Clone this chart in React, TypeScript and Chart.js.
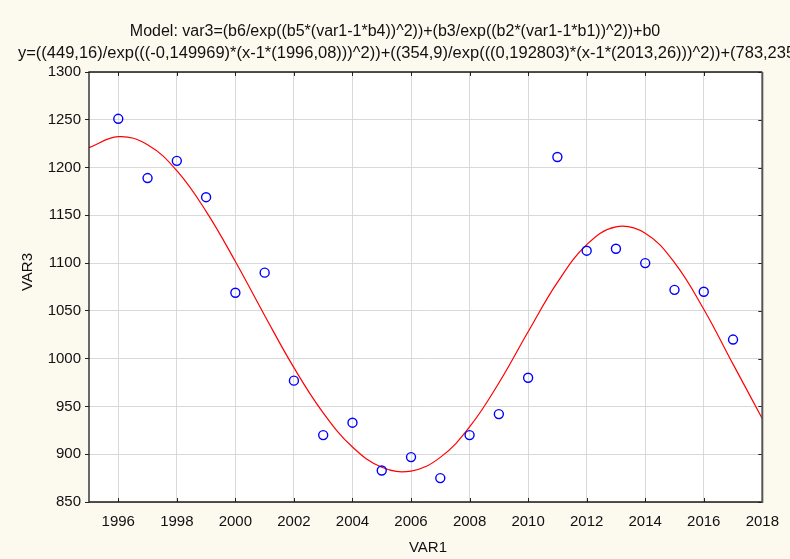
import React, { useEffect, useRef } from "react";
import { Chart, registerables } from "chart.js";

Chart.register(...registerables);

const titleLine1 = "Model: var3=(b6/exp((b5*(var1-1*b4))^2))+(b3/exp((b2*(var1-1*b1))^2))+b0";
const titleLine2 =
  "y=((449,16)/exp(((-0,149969)*(x-1*(1996,08)))^2))+((354,9)/exp(((0,192803)*(x-1*(2013,26)))^2))+(783,235)";
const xTitle = "VAR1";
const yTitle = "VAR3";

const years = [
  1996, 1997, 1998, 1999, 2000, 2001, 2002, 2003, 2004, 2005, 2006,
  2007, 2008, 2009, 2010, 2011, 2012, 2013, 2014, 2015, 2016, 2017,
];
const observed = [
  1251, 1189, 1207, 1169, 1069, 1090, 977, 920, 933, 883, 897,
  875, 920, 942, 980, 1211, 1113, 1115, 1100, 1072, 1070, 1020,
];

const curveX = [
  1995, 1996, 1997, 1998, 1999, 2000, 2001, 2002, 2003, 2004, 2005, 2006,
  2007, 2008, 2009, 2010, 2011, 2012, 2013, 2014, 2015, 2016, 2017, 2018,
];
const curveY = [
  1220.8, 1232.3, 1223.9, 1196.7, 1154.2, 1101.7, 1045.2, 990.6, 943.3, 907.5, 886.4, 882.4,
  896.7, 928.5, 974.5, 1028.1, 1079.8, 1119.3, 1138.0, 1131.3, 1100.5, 1051.7, 994.3, 937.2,
];

const xTicks = [1996, 1998, 2000, 2002, 2004, 2006, 2008, 2010, 2012, 2014, 2016, 2018];
const yTicks = [850, 900, 950, 1000, 1050, 1100, 1150, 1200, 1250, 1300];

const FONT = "'Liberation Sans', Arial, Helvetica, sans-serif";

const framePlugin = {
  id: "framePlugin",
  beforeDraw(chart: any) {
    const { ctx, chartArea: a, width, height } = chart;
    ctx.save();
    ctx.fillStyle = "#fcf9ef";
    ctx.fillRect(0, 0, width, height);
    ctx.fillStyle = "#ffffff";
    ctx.fillRect(a.left, a.top, a.right - a.left, a.bottom - a.top);
    ctx.restore();
  },
  afterDraw(chart: any) {
    const { ctx, chartArea: a, scales } = chart;
    ctx.save();
    // inward tick marks
    ctx.strokeStyle = "#222";
    ctx.lineWidth = 1;
    for (const v of xTicks) {
      const px = Math.round(scales.x.getPixelForValue(v)) + 0.5;
      ctx.beginPath();
      ctx.moveTo(px, a.bottom);
      ctx.lineTo(px, a.bottom - 4);
      ctx.moveTo(px, a.top);
      ctx.lineTo(px, a.top + 4);
      ctx.stroke();
    }
    for (const v of yTicks) {
      const py = Math.round(scales.y.getPixelForValue(v)) + 0.5;
      ctx.beginPath();
      ctx.moveTo(a.right, py);
      ctx.lineTo(a.right - 4, py);
      ctx.stroke();
    }
    // frame
    ctx.strokeStyle = "#1a1a1a";
    ctx.lineWidth = 1.3;
    ctx.beginPath();
    ctx.moveTo(a.right, a.top);
    ctx.lineTo(a.left, a.top);
    ctx.lineTo(a.left, a.bottom);
    ctx.lineTo(a.right, a.bottom);
    ctx.stroke();
    ctx.strokeStyle = "#555";
    ctx.lineWidth = 2;
    ctx.beginPath();
    ctx.moveTo(a.right, a.top);
    ctx.lineTo(a.right, a.bottom + 1);
    ctx.stroke();

    // titles
    ctx.fillStyle = "#111";
    ctx.font = `16px ${FONT}`;
    ctx.textBaseline = "middle";
    ctx.textAlign = "center";
    ctx.fillText(titleLine1, 395, 32);
    ctx.textAlign = "left";
    ctx.save();
    ctx.translate(18, 54);
    ctx.scale(1.03, 1);
    ctx.fillText(titleLine2, 0, 0);
    ctx.restore();

    // axis titles
    ctx.font = `15px ${FONT}`;
    ctx.textAlign = "center";
    ctx.fillText(xTitle, 428, 548);
    ctx.translate(28, 272);
    ctx.rotate(-Math.PI / 2);
    ctx.fillText(yTitle, 0, 0);
    ctx.restore();
  },
};

export default function App() {
  const ref = useRef<HTMLCanvasElement | null>(null);

  useEffect(() => {
    document.body.style.margin = "0";
    if (!ref.current) return;
    const chart = new Chart(ref.current, {
      type: "scatter",
      data: {
        datasets: [
          {
            label: "fit",
            data: curveX.map((x, i) => ({ x, y: curveY[i] })),
            showLine: true,
            borderColor: "#ff0000",
            borderWidth: 1.2,
            pointRadius: 0,
            tension: 0.4,
            fill: false,
            order: 2,
          },
          {
            label: "VAR3",
            data: years.map((x, i) => ({ x, y: observed[i] })),
            showLine: false,
            pointStyle: "circle",
            pointRadius: 4.5,
            pointBorderColor: "#0000ff",
            pointBackgroundColor: "rgba(0,0,0,0)",
            pointBorderWidth: 1.4,
            borderColor: "#0000ff",
            backgroundColor: "rgba(0,0,0,0)",
            order: 1,
          },
        ],
      },
      options: {
        responsive: false,
        animation: false,
        layout: { padding: { top: 72, right: 26, left: 0, bottom: 0 } },
        plugins: {
          legend: { display: false },
          title: { display: false },
          tooltip: { enabled: false },
        },
        scales: {
          x: {
            type: "linear",
            min: 1995,
            max: 2018,
            afterBuildTicks: (s: any) => {
              s.ticks = xTicks.map((v) => ({ value: v }));
            },
            afterFit: (s: any) => {
              s.height = 57;
            },
            grid: { color: "#d9d9d9", lineWidth: 1, drawTicks: false },
            border: { display: false },
            ticks: {
              padding: 11,
              color: "#111",
              font: { family: FONT, size: 15 },
              callback: (v: any) => String(v),
              maxRotation: 0,
              autoSkip: false,
            },
          },
          y: {
            type: "linear",
            min: 850,
            max: 1300,
            afterBuildTicks: (s: any) => {
              s.ticks = yTicks.map((v) => ({ value: v }));
            },
            afterFit: (s: any) => {
              s.width = 89;
            },
            grid: {
              color: "#d9d9d9",
              lineWidth: 1,
              drawTicks: true,
              tickLength: 4,
              tickColor: "#222",
            },
            border: { display: false },
            ticks: {
              padding: 4,
              color: "#111",
              font: { family: FONT, size: 15 },
              callback: (v: any) => String(v),
              autoSkip: false,
            },
          },
        },
      },
      plugins: [framePlugin],
    });
    return () => chart.destroy();
  }, []);

  return (
    <div style={{ position: "absolute", left: 0, top: 0, width: 790, height: 559 }}>
      <canvas ref={ref} width={790} height={559} />
    </div>
  );
}
